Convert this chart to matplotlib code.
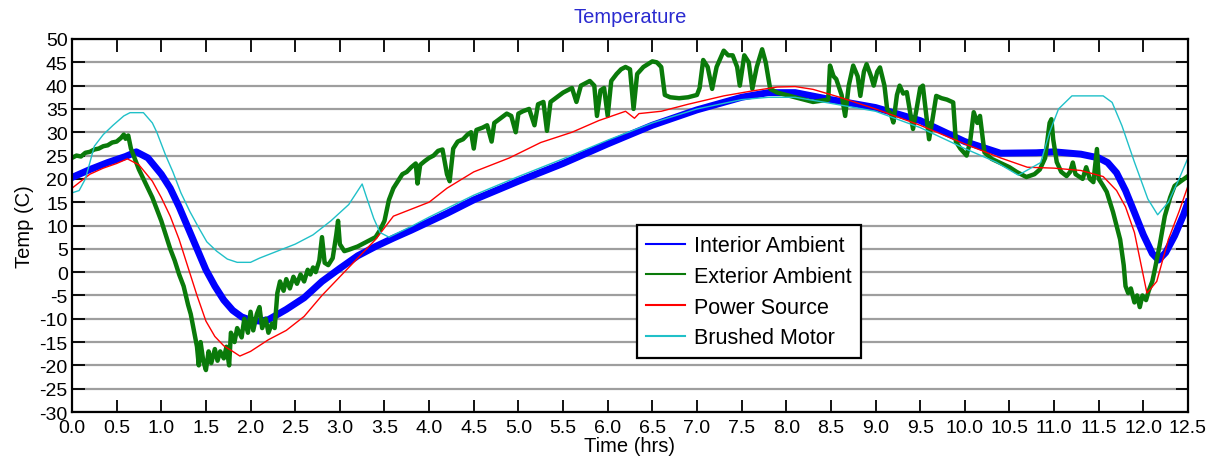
import matplotlib
matplotlib.use("Agg")
import matplotlib.pyplot as plt
import numpy as np

plt.rcParams.update({"font.family": ["Liberation Sans", "DejaVu Sans"],
                     "font.size": 14.5, "axes.unicode_minus": False})

# ------------------------------------------------------------------ data
# Interior ambient (blue, thick)
t_int = [0.0, 0.2, 0.4, 0.6, 0.72, 0.85, 1.0, 1.1, 1.2, 1.3, 1.4, 1.5, 1.6,
         1.7, 1.8, 1.9, 2.0, 2.1, 2.2, 2.4, 2.6, 2.8, 3.0, 3.2, 3.4, 3.6, 3.8,
         4.0, 4.2, 4.5, 5.0, 5.5, 6.0, 6.5, 7.0, 7.5, 7.8, 8.1, 8.5, 9.0, 9.5,
         10.0, 10.4, 10.8, 11.0, 11.3, 11.5, 11.6, 11.7, 11.8, 11.9, 12.0,
         12.1, 12.17, 12.25, 12.35, 12.45, 12.5]
T_int = [20.3, 22.0, 23.5, 24.8, 25.8, 24.5, 21.0, 18.0, 14.0, 9.5, 5.0, 0.5,
         -3.0, -6.0, -8.2, -9.6, -10.3, -10.5, -10.2, -8.0, -5.5, -2.0, 0.8,
         3.5, 5.5, 7.3, 9.0, 10.8, 12.6, 15.5, 19.5, 23.3, 27.5, 31.5, 34.8,
         37.5, 38.5, 38.5, 37.0, 35.3, 32.5, 28.0, 25.5, 25.6, 25.8, 25.3,
         24.5, 23.5, 21.3, 17.5, 12.8, 8.0, 4.0, 2.6, 4.2, 7.8, 12.3, 15.0]

# Exterior ambient (green, noisy)
t_ext = [0.0, 0.05, 0.1, 0.15, 0.2, 0.25, 0.3, 0.35, 0.4, 0.45, 0.5, 0.55,
         0.58, 0.6, 0.63, 0.66, 0.7, 0.75, 0.8, 0.85, 0.9, 0.95, 1.0, 1.05,
         1.1, 1.15, 1.2, 1.25, 1.3, 1.33, 1.36, 1.4, 1.42, 1.44, 1.47, 1.5,
         1.53, 1.56, 1.6, 1.63, 1.66, 1.7, 1.73, 1.76, 1.78, 1.82, 1.85, 1.9,
         1.93, 1.97, 2.0, 2.03, 2.07, 2.1, 2.13, 2.17, 2.2, 2.24, 2.27, 2.3,
         2.33, 2.37, 2.4, 2.44, 2.48, 2.52, 2.56, 2.6, 2.64, 2.67, 2.7, 2.73,
         2.77, 2.8, 2.83, 2.87, 2.92, 2.96, 2.98, 3.0, 3.05, 3.1, 3.2, 3.3,
         3.4, 3.45, 3.5, 3.55, 3.6, 3.65, 3.7, 3.75, 3.8, 3.85, 3.87, 3.9,
         3.95, 4.0, 4.05, 4.1, 4.15, 4.2, 4.23, 4.27, 4.32, 4.38, 4.43, 4.47,
         4.5, 4.53, 4.6, 4.65, 4.7, 4.73, 4.8, 4.87, 4.92, 4.97, 5.0, 5.05,
         5.12, 5.18, 5.22, 5.28, 5.32, 5.36, 5.43, 5.5, 5.55, 5.6, 5.65, 5.7,
         5.75, 5.8, 5.85, 5.88, 5.92, 5.96, 6.0, 6.04, 6.1, 6.15, 6.2, 6.25,
         6.29, 6.33, 6.4, 6.5, 6.55, 6.6, 6.64, 6.7, 6.8, 6.9, 7.0, 7.03,
         7.07, 7.12, 7.17, 7.22, 7.3, 7.35, 7.4, 7.45, 7.48, 7.53, 7.58, 7.62,
         7.67, 7.73, 7.77, 7.82, 7.9, 8.0, 8.1, 8.2, 8.3, 8.4, 8.47, 8.49,
         8.53, 8.56, 8.62, 8.66, 8.7, 8.75, 8.8, 8.83, 8.87, 8.9, 8.95, 8.98,
         9.02, 9.05, 9.1, 9.13, 9.17, 9.2, 9.24, 9.27, 9.31, 9.35, 9.39, 9.42,
         9.46, 9.5, 9.53, 9.56, 9.6, 9.64, 9.68, 9.74, 9.8, 9.87, 9.9, 9.95,
         10.02, 10.06, 10.1, 10.14, 10.17, 10.22, 10.3, 10.39, 10.5, 10.58,
         10.69, 10.78, 10.84, 10.9, 10.95, 10.97, 10.99, 11.03, 11.08, 11.14,
         11.18, 11.21, 11.24, 11.28, 11.32, 11.36, 11.4, 11.44, 11.48, 11.5,
         11.55, 11.59, 11.66, 11.74, 11.78, 11.8, 11.83, 11.86, 11.9, 11.93,
         11.96, 11.99, 12.03, 12.06, 12.1, 12.13, 12.18, 12.24, 12.3, 12.35,
         12.42, 12.5]
T_ext = [24.5, 25.0, 24.8, 25.6, 25.8, 26.3, 26.5, 27.0, 27.2, 27.8, 28.0,
         28.8, 29.5, 28.6, 29.3, 26.5, 24.5, 22.0, 20.0, 18.0, 16.0, 13.5,
         11.0, 8.0, 5.0, 2.5, -0.5, -3.0, -7.0, -9.0, -12.0, -16.0, -20.0,
         -15.0, -19.0, -21.0, -17.0, -19.5, -16.5, -19.0, -17.0, -18.5, -16.0,
         -20.0, -13.0, -15.0, -12.0, -14.0, -10.0, -13.0, -8.5, -12.5, -9.0,
         -7.5, -12.0, -10.0, -13.0, -11.0, -12.0, -4.5, -2.0, -4.0, -1.5,
         -3.5, -1.0, -2.5, -0.5, -2.0, 0.5, -0.5, 1.0, 0.0, 2.5, 7.5, 2.0,
         1.5, 3.0, 8.0, 11.0, 6.0, 4.5, 4.8, 5.5, 6.5, 7.5, 9.0, 11.0, 15.5,
         18.0, 19.5, 21.0, 21.5, 22.5, 23.3, 19.0, 23.0, 23.8, 24.5, 25.0,
         26.0, 26.3, 21.0, 19.5, 26.5, 28.0, 28.5, 29.5, 30.0, 26.5, 30.5,
         31.0, 31.5, 28.0, 32.0, 33.0, 34.0, 33.5, 30.0, 34.0, 34.5, 35.0,
         31.5, 36.0, 36.5, 30.3, 36.5, 37.5, 38.5, 39.0, 39.5, 36.5, 40.0,
         40.5, 41.0, 40.0, 33.5, 39.0, 39.5, 33.5, 41.0, 42.5, 43.5, 44.0,
         43.5, 35.0, 42.5, 44.0, 45.2, 45.0, 44.0, 38.0, 37.5, 37.3, 37.5,
         38.0, 39.5, 45.5, 44.0, 39.3, 44.0, 47.5, 46.5, 46.5, 44.0, 40.0,
         46.5, 45.0, 39.3, 44.0, 47.8, 45.0, 39.3, 38.5, 38.0, 37.5, 37.0,
         36.5, 36.8, 37.0, 44.3, 42.0, 41.4, 38.0, 33.5, 40.0, 44.3, 42.0,
         37.8, 43.0, 44.6, 42.0, 40.0, 43.0, 43.9, 40.0, 35.0, 34.0, 32.1,
         38.0, 40.0, 38.3, 38.6, 34.0, 30.7, 35.0, 39.5, 40.0, 35.0, 28.5,
         33.0, 37.8, 37.3, 37.0, 36.4, 28.0, 26.5, 25.0, 28.0, 34.3, 32.0,
         33.5, 25.7, 24.3, 23.5, 22.5, 21.5, 20.4, 21.0, 22.0, 24.5, 32.0,
         32.8, 28.5, 23.6, 21.5, 20.6, 21.5, 23.5, 21.0, 20.5, 20.0, 22.5,
         20.0, 19.3, 26.4, 20.0, 18.5, 17.2, 12.9, 7.0, 1.5, -3.0, -4.5, -3.5,
         -6.5, -5.0, -7.5, -5.0, -6.0, -4.0, -2.0, 0.7, 5.5, 12.0, 16.0, 18.5,
         19.5, 20.6]

# Power source (red, thin)
t_pow = [0.0, 0.1, 0.2, 0.35, 0.5, 0.62, 0.75, 0.9, 1.0, 1.1, 1.2, 1.3, 1.4,
         1.5, 1.6, 1.7, 1.8, 1.88, 2.0, 2.2, 2.4, 2.6, 2.8, 3.0, 3.2, 3.4,
         3.5, 3.6, 3.8, 4.0, 4.2, 4.5, 4.9, 5.25, 5.6, 5.9, 6.2, 6.3, 6.35,
         6.6, 6.9, 7.3, 7.6, 7.9, 8.1, 8.3, 8.6, 9.0, 9.5, 10.0, 10.4, 10.7,
         11.0, 11.3, 11.55, 11.7, 11.8, 11.9, 11.97, 12.04, 12.15, 12.28,
         12.4, 12.5]
T_pow = [18.0, 19.5, 21.0, 22.3, 23.3, 24.3, 23.0, 19.5, 16.0, 12.0, 7.0, 1.0,
         -5.0, -10.5, -13.8, -15.8, -17.0, -18.0, -17.0, -14.5, -12.5, -9.5,
         -5.0, -1.0, 3.0, 7.0, 9.5, 12.0, 13.5, 15.0, 18.0, 21.5, 24.5, 27.8,
         30.0, 32.5, 34.5, 33.0, 34.0, 34.5, 36.0, 37.8, 38.8, 39.7, 39.8,
         39.2, 37.5, 35.0, 31.5, 27.5, 24.5, 22.5, 22.3, 21.8, 20.5, 17.5,
         14.0, 8.5, 2.0, -4.5, -2.0, 7.0, 13.0, 18.5]

# Brushed motor (cyan, thin)
t_mot = [0.0, 0.08, 0.15, 0.25, 0.35, 0.46, 0.58, 0.65, 0.8, 0.9, 0.95, 1.05,
         1.13, 1.22, 1.32, 1.42, 1.51, 1.62, 1.74, 1.85, 2.0, 2.1, 2.3, 2.5,
         2.7, 2.9, 3.1, 3.25, 3.3, 3.38, 3.45, 3.55, 3.8, 4.0, 4.5, 5.0, 5.5,
         6.0, 6.5, 7.0, 7.5, 7.8, 8.1, 8.5, 9.0, 9.5, 10.0, 10.35, 10.6,
         10.85, 10.95, 11.05, 11.2, 11.55, 11.65, 11.76, 11.9, 12.05, 12.16,
         12.28, 12.4, 12.5]
T_mot = [17.0, 17.5, 20.0, 27.0, 29.5, 31.5, 33.5, 34.2, 34.2, 32.0, 30.0,
         25.0, 21.5, 17.0, 13.0, 9.5, 6.5, 4.5, 2.8, 2.1, 2.1, 3.0, 4.5, 6.0,
         8.0, 11.0, 14.5, 18.9, 16.0, 11.5, 8.5, 7.5, 9.8, 11.8, 16.5, 20.5,
         24.3, 28.3, 32.0, 35.0, 37.0, 37.5, 37.5, 36.2, 34.5, 31.0, 26.5,
         23.6, 20.8, 23.5, 30.0, 35.0, 37.8, 37.8, 36.4, 31.4, 23.6, 15.7,
         12.3, 15.0, 20.0, 24.5]

labels = ["Interior Ambient", "Exterior Ambient", "Power Source", "Brushed Motor"]
colors = ["#0000ff", "#0a7a0a", "#ff0000", "#20c0c8"]
widths = [5.0, 3.2, 1.0, 1.0]

# ------------------------------------------------------------------ plot
fig = plt.figure(figsize=(12.15, 4.64), dpi=100)
ax = fig.add_axes([72 / 1215, 1 - 413 / 464, 1116 / 1215, 373 / 464])

series = [(t_int, T_int), (t_ext, T_ext), (t_pow, T_pow), (t_mot, T_mot)]
for (t, T), lab, col, lw in zip(series, labels, colors, widths):
    ax.plot(t, T, color=col, lw=lw, label=lab)

ax.set_xlim(0, 12.5)
ax.set_ylim(-30, 50)
ax.set_xticks(np.arange(0, 12.51, 0.5))
ax.set_xticklabels([f"{v:.1f}" for v in np.arange(0, 12.51, 0.5)])
ax.set_yticks(np.arange(-30, 51, 5))
ax.yaxis.grid(True, color="0.62", lw=1.6)
ax.set_axisbelow(True)
ax.tick_params(direction="in", length=9, width=1.3, top=True, right=True,
               pad=3, labelsize=14)
ax.tick_params(axis="x", pad=5)
for sp in ax.spines.values():
    sp.set_linewidth(1.6)

ax.set_xlabel("Time (hrs)", labelpad=0)
ax.set_ylabel("Temp (C)", labelpad=4)
ax.set_title("Temperature", color="#2b2bd0", fontsize=14.5, pad=12)

leg = ax.legend(loc="lower left", bbox_to_anchor=(0.506, 0.145),
                borderaxespad=0, fancybox=False, edgecolor="black",
                framealpha=1, handlelength=1.8, labelspacing=0.45,
                borderpad=0.45, handletextpad=0.4, fontsize=15.5)
leg.get_frame().set_linewidth(1.6)
for ln in leg.get_lines():
    ln.set_linewidth(1.5)

fig.savefig("out.png", dpi=100)
